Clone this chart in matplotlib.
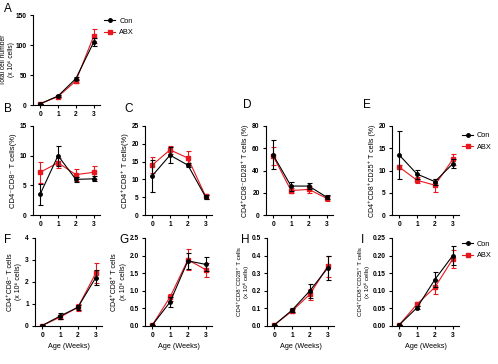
import matplotlib
matplotlib.use("Agg")
import matplotlib.pyplot as plt
from matplotlib.lines import Line2D

plt.rcParams['font.family'] = ['Liberation Sans', 'DejaVu Sans']
plt.rcParams['font.weight'] = 'bold'

weeks = [0, 1, 2, 3]

# panel values: mean and error for Con and ABX
total_con = [2, 15, 44, 105]
total_con_err = [0.5, 1.5, 3, 6]
total_abx = [2, 14, 40, 115]
total_abx_err = [0.5, 1.5, 3, 12]

dn_con = [3.5, 10.0, 6.0, 6.1]
dn_con_err = [1.8, 1.7, 0.4, 0.4]
dn_abx = [7.2, 8.8, 6.8, 7.2]
dn_abx_err = [1.8, 0.8, 1.0, 1.1]

dp_con = [11.0, 16.8, 14.0, 5.0]
dp_con_err = [4.5, 2.2, 0.6, 0.5]
dp_abx = [14.0, 18.3, 16.0, 5.2]
dp_abx_err = [2.3, 1.2, 2.0, 0.8]

cd28_con = [54, 26, 26, 16]
cd28_con_err = [13, 4, 3, 2]
cd28_abx = [53, 22, 23, 15]
cd28_abx_err = [8, 2, 3, 2]

cd25_con = [13.5, 9.2, 7.5, 11.5]
cd25_con_err = [5.3, 1.0, 0.7, 1.0]
cd25_abx = [10.8, 7.8, 6.7, 12.5]
cd25_abx_err = [0.5, 0.7, 1.5, 1.3]

sp_con = [0.02, 0.45, 0.85, 2.2]
sp_con_err = [0.01, 0.12, 0.12, 0.35]
sp_abx = [0.02, 0.40, 0.85, 2.4]
sp_abx_err = [0.01, 0.1, 0.15, 0.45]

dpn_con = [0.02, 0.68, 1.85, 1.75]
dpn_con_err = [0.01, 0.15, 0.22, 0.2]
dpn_abx = [0.02, 0.82, 1.88, 1.6]
dpn_abx_err = [0.01, 0.1, 0.3, 0.2]

cd28n_con = [0.005, 0.09, 0.20, 0.33]
cd28n_con_err = [0.002, 0.01, 0.04, 0.07]
cd28n_abx = [0.005, 0.085, 0.18, 0.34]
cd28n_abx_err = [0.002, 0.01, 0.03, 0.06]

cd25n_con = [0.003, 0.052, 0.132, 0.20]
cd25n_con_err = [0.001, 0.005, 0.02, 0.028]
cd25n_abx = [0.003, 0.062, 0.11, 0.19]
cd25n_abx_err = [0.001, 0.006, 0.02, 0.025]

RED = "#e8171f"
W, H = 498.0, 364.0

fig = plt.figure(figsize=(4.98, 3.64), dpi=100)


def make_ax(left, top, bottom, width=67):
    return fig.add_axes([left / W, 1 - bottom / H, width / W, (bottom - top) / H])


def draw(ax, con, con_err, abx, abx_err, ymax, yticks, ylabel, ticklabels=None,
         xlabel=False, legend=None, ysize=5.5, ls=1.3):
    ax.errorbar(weeks, con, yerr=con_err, color="black", marker="o", ms=2.5,
                lw=0.8, capsize=1.8, elinewidth=0.8, capthick=0.8, zorder=3)
    ax.errorbar(weeks, abx, yerr=abx_err, color=RED, marker="s", ms=3.2,
                lw=0.8, capsize=1.8, elinewidth=0.8, capthick=0.8, zorder=2)
    ax.set_xlim(-0.4, 3.35)
    ax.set_ylim(0, ymax)
    ax.set_yticks(yticks)
    if ticklabels is not None:
        ax.set_yticklabels(ticklabels)
    ax.set_xticks(weeks)
    for s in ["top", "right"]:
        ax.spines[s].set_visible(False)
    for s in ["left", "bottom"]:
        ax.spines[s].set_linewidth(0.8)
    ax.tick_params(labelsize=4.8, width=0.8, length=2.5, pad=2)
    ax.set_ylabel(ylabel, fontsize=ysize, labelpad=2, fontweight="normal",
                  linespacing=ls)
    if xlabel:
        ax.set_xlabel("Age (Weeks)", fontsize=5.2, labelpad=3)
    if legend is not None:
        handles = [
            Line2D([], [], color="black", marker="o", ms=2.5, lw=0.8),
            Line2D([], [], color=RED, marker="s", ms=3.2, lw=0.8),
        ]
        ax.legend(handles, ["Con", "ABX"], loc="upper left", bbox_to_anchor=legend,
                  frameon=False, handlelength=1.5, handletextpad=0.5,
                  labelspacing=0.6, borderaxespad=0.2,
                  prop={"weight": "normal", "size": 5.3})


ax = make_ax(33, 15, 105)
draw(ax, total_con, total_con_err, total_abx, total_abx_err, 150, [0, 50, 100, 150],
     "Total cell number\n(x 10⁶ cells)", legend=(1.0, 1.02), ysize=4.8, ls=1.1)
ax.yaxis.set_label_coords(-0.27, 0.5)

ax = make_ax(33, 126, 215)
draw(ax, dn_con, dn_con_err, dn_abx, dn_abx_err, 15, [0, 5, 10, 15],
     "CD4⁻CD8⁻ T cells(%)")
ax = make_ax(145, 126, 215)
draw(ax, dp_con, dp_con_err, dp_abx, dp_abx_err, 25, [0, 5, 10, 15, 20, 25],
     "CD4⁺CD8⁺ T cells(%)")
ax = make_ax(266, 126, 215)
draw(ax, cd28_con, cd28_con_err, cd28_abx, cd28_abx_err, 80, [0, 20, 40, 60, 80],
     "CD4⁺CD8⁻CD28⁺ T cells (%)", ysize=5.0)
ax = make_ax(392, 126, 215)
draw(ax, cd25_con, cd25_con_err, cd25_abx, cd25_abx_err, 20, [0, 5, 10, 15, 20],
     "CD4⁺CD8⁺CD25⁺ T cells (%)", legend=(0.98, 0.98), ysize=5.0)

ax = make_ax(35, 238, 326)
draw(ax, sp_con, sp_con_err, sp_abx, sp_abx_err, 4, [0, 1, 2, 3, 4],
     "CD4⁺CD8⁻ T cells\n(x 10⁶ cells)", xlabel=True, ysize=5.0)
ax = make_ax(145, 238, 326)
draw(ax, dpn_con, dpn_con_err, dpn_abx, dpn_abx_err, 2.5, [0, 0.5, 1, 1.5, 2, 2.5],
     "CD4⁺CD8⁺ T cells\n(x 10⁶ cells)",
     ticklabels=["0.0", "0.5", "1.0", "1.5", "2.0", "2.5"], xlabel=True, ysize=5.0)
ax = make_ax(267, 238, 326)
draw(ax, cd28n_con, cd28n_con_err, cd28n_abx, cd28n_abx_err, 0.5,
     [0, 0.1, 0.2, 0.3, 0.4, 0.5], "CD4⁺CD8⁻CD28⁺ T cells\n(x 10⁶ cells)",
     ticklabels=["0.0", "0.1", "0.2", "0.3", "0.4", "0.5"], xlabel=True, ysize=4.4)
ax = make_ax(392, 238, 326)
draw(ax, cd25n_con, cd25n_con_err, cd25n_abx, cd25n_abx_err, 0.25,
     [0, 0.05, 0.1, 0.15, 0.2, 0.25], "CD4⁺CD8⁺CD25⁺ T cells\n(x 10⁶ cells)",
     ticklabels=["0.00", "0.05", "0.10", "0.15", "0.20", "0.25"], xlabel=True,
     legend=(0.98, 1.02), ysize=4.4)

letters = [("A", 4, 3), ("B", 4, 103), ("C", 124, 103), ("D", 243, 99), ("E", 363, 99),
           ("F", 4, 234), ("G", 119, 234), ("H", 241, 234), ("I", 361, 234)]
for txt, x, y in letters:
    fig.text(x / W, 1 - y / H, txt, fontsize=8.5, fontweight="normal", va="top", ha="left")

fig.savefig("out.png", dpi=100)
